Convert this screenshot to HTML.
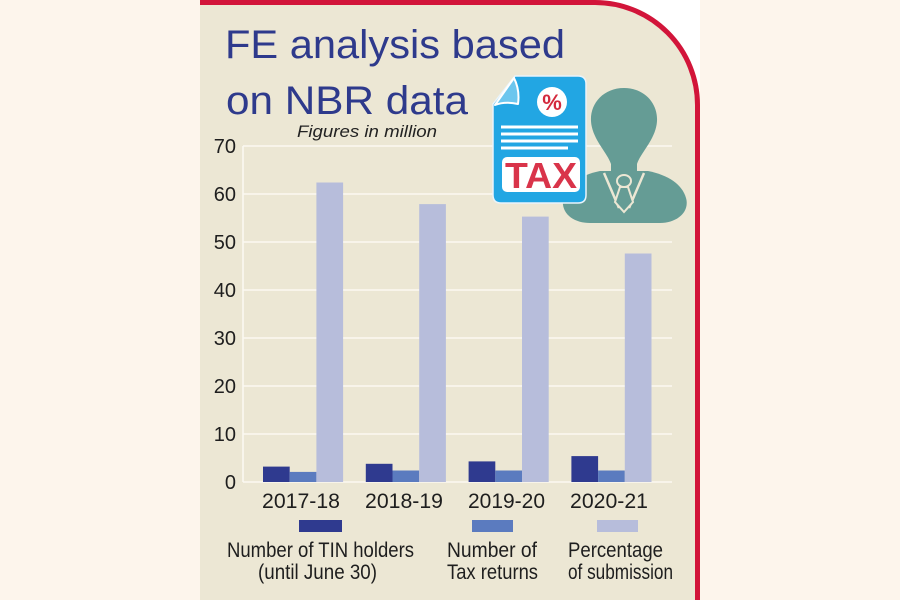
<!DOCTYPE html>
<html><head><meta charset="utf-8"><style>
html,body{margin:0;padding:0;background:#fdf5ec;}
svg{display:block;}
text{font-family:"Liberation Sans",sans-serif;}
</style></head><body>
<svg width="900" height="600" viewBox="0 0 900 600" xmlns="http://www.w3.org/2000/svg">
<rect x="0" y="0" width="900" height="600" fill="#fdf5ec"/>
<rect x="200" y="0" width="500" height="600" fill="#ffffff"/>
<path d="M200,0 H595 A105,105 0 0 1 700,105 V600 H200 Z" fill="#ece7d4"/>
<path d="M200,2.5 H595 A102.5,102.5 0 0 1 697.5,105 V600" fill="none" stroke="#d2153a" stroke-width="5"/>

<!-- title -->
<text x="225" y="58" font-size="40" fill="#2e3a8c" textLength="340" lengthAdjust="spacingAndGlyphs">FE analysis based</text>
<text x="226" y="114" font-size="40" fill="#2e3a8c" textLength="242" lengthAdjust="spacingAndGlyphs">on NBR data</text>
<text x="297" y="137" font-size="17" font-style="italic" fill="#222" textLength="140" lengthAdjust="spacingAndGlyphs">Figures in million</text>

<!-- gridlines -->
<g stroke="#fbf9f1" stroke-width="1.6">
<line x1="243" y1="146" x2="672" y2="146"/>
<line x1="243" y1="194" x2="672" y2="194"/>
<line x1="243" y1="242" x2="672" y2="242"/>
<line x1="243" y1="290" x2="672" y2="290"/>
<line x1="243" y1="338" x2="672" y2="338"/>
<line x1="243" y1="386" x2="672" y2="386"/>
<line x1="243" y1="434" x2="672" y2="434"/>
<line x1="243" y1="482" x2="672" y2="482"/>
<line x1="243" y1="146" x2="243" y2="482"/>
</g>

<!-- y labels -->
<g font-size="20" fill="#1e1e1e" text-anchor="end">
<text x="236" y="153">70</text>
<text x="236" y="201">60</text>
<text x="236" y="249">50</text>
<text x="236" y="297">40</text>
<text x="236" y="345">30</text>
<text x="236" y="393">20</text>
<text x="236" y="441">10</text>
<text x="236" y="489">0</text>
</g>

<!-- bars -->
<g>
<rect x="263" y="466.6" width="26.7" height="15.4" fill="#2f3a8f"/>
<rect x="289.7" y="471.9" width="26.7" height="10.1" fill="#5b7bbf"/>
<rect x="316.4" y="182.5" width="26.7" height="299.5" fill="#b7bddb"/>

<rect x="365.8" y="463.8" width="26.7" height="18.2" fill="#2f3a8f"/>
<rect x="392.5" y="470.5" width="26.7" height="11.5" fill="#5b7bbf"/>
<rect x="419.2" y="204.1" width="26.7" height="277.9" fill="#b7bddb"/>

<rect x="468.6" y="461.4" width="26.7" height="20.6" fill="#2f3a8f"/>
<rect x="495.3" y="470.5" width="26.7" height="11.5" fill="#5b7bbf"/>
<rect x="522" y="216.6" width="26.7" height="265.4" fill="#b7bddb"/>

<rect x="571.4" y="456.1" width="26.7" height="25.9" fill="#2f3a8f"/>
<rect x="598.1" y="470.5" width="26.7" height="11.5" fill="#5b7bbf"/>
<rect x="624.8" y="253.5" width="26.7" height="228.5" fill="#b7bddb"/>
</g>

<!-- x labels -->
<g font-size="21" fill="#1e1e1e">
<text x="262" y="508" textLength="78" lengthAdjust="spacingAndGlyphs">2017-18</text>
<text x="365" y="508" textLength="78" lengthAdjust="spacingAndGlyphs">2018-19</text>
<text x="468" y="508" textLength="77" lengthAdjust="spacingAndGlyphs">2019-20</text>
<text x="570" y="508" textLength="78" lengthAdjust="spacingAndGlyphs">2020-21</text>
</g>

<!-- legend -->
<rect x="299" y="520" width="43" height="12" fill="#2f3a8f"/>
<rect x="472" y="520" width="41" height="12" fill="#5b7bbf"/>
<rect x="597" y="520" width="41" height="12" fill="#b7bddb"/>
<g font-size="21" fill="#1e1e1e">
<text x="227" y="557" textLength="187" lengthAdjust="spacingAndGlyphs">Number of TIN holders</text>
<text x="258" y="579" textLength="119" lengthAdjust="spacingAndGlyphs">(until June 30)</text>
<text x="447" y="557" textLength="90" lengthAdjust="spacingAndGlyphs">Number of</text>
<text x="447" y="579" textLength="91" lengthAdjust="spacingAndGlyphs">Tax returns</text>
<text x="568" y="557" textLength="95" lengthAdjust="spacingAndGlyphs">Percentage</text>
<text x="568" y="579" textLength="105" lengthAdjust="spacingAndGlyphs">of submission</text>
</g>

<!-- person icon -->
<g fill="#659c95">
<path d="M600,171 C580,175 566,185 563,199 C561,214 574,223 590,223 H660 C677,223 690,212 686,198 C682,184 668,175 648,171 Z"/>
<path d="M624,88 C645,88 658,104 657,121 C656,139 641,152 637,164 L637,176 L611,176 L611,164 C607,152 592,139 591,121 C590,104 603,88 624,88 Z"/>
</g>
<g stroke="#ece7d4" stroke-width="2.5" fill="none">
<line x1="604" y1="173" x2="619" y2="208"/>
<line x1="644" y1="173" x2="629" y2="208"/>
</g>
<g fill="#659c95" stroke="#ece7d4" stroke-width="2">
<polygon points="620,187 628,187 633,202 624,212 615,202"/>
<ellipse cx="624" cy="181" rx="7" ry="6"/>
</g>

<!-- tax document icon -->
<path d="M515,76 H578 Q586,76 586,84 V195 Q586,203 578,203 H501 Q493,203 493,195 V104 Z" fill="#22a6e3" stroke="#e9f4fb" stroke-width="1.5"/>
<path d="M514,78 Q520,90 518,104 Q505,101 495,105 Z" fill="#6cc6ee" stroke="#ffffff" stroke-width="2" stroke-linejoin="round"/>
<circle cx="552" cy="102" r="15" fill="#ffffff"/>
<text x="552" y="110" font-size="22" font-weight="bold" fill="#d4293d" text-anchor="middle">%</text>
<g stroke="#ffffff" stroke-width="3">
<line x1="501" y1="127" x2="578" y2="127"/>
<line x1="501" y1="134" x2="578" y2="134"/>
<line x1="501" y1="141" x2="578" y2="141"/>
<line x1="501" y1="148" x2="568" y2="148"/>
</g>
<rect x="502" y="157" width="78" height="35" rx="5" fill="#ffffff"/>
<text x="505" y="188" font-size="36" font-weight="bold" fill="#d9344a" textLength="72" lengthAdjust="spacingAndGlyphs">TAX</text>
</svg>
</body></html>
